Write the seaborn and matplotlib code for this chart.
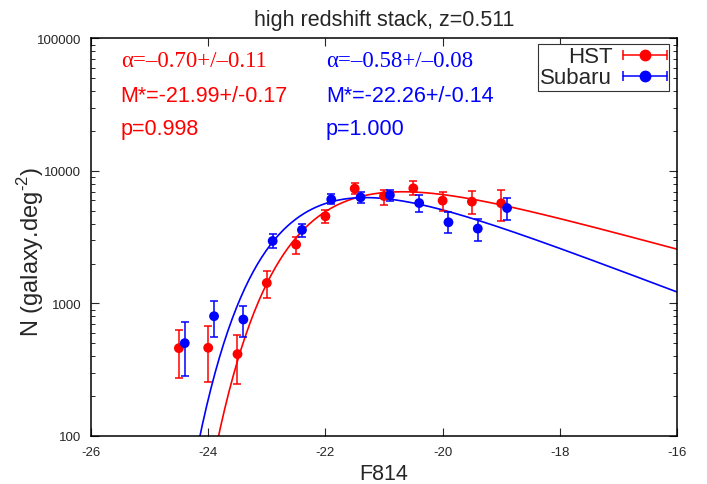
import numpy as np
import pandas as pd
import seaborn as sns
import matplotlib.pyplot as plt
from matplotlib.lines import Line2D
from matplotlib.legend_handler import HandlerLine2D

# Data
hst_mag = [-24.5, -24.0, -23.5, -23.0, -22.5, -22.0, -21.5, -21.0, -20.5, -20.0, -19.5, -19.0]
hst_n = [460, 463, 415, 1429, 2785, 4550, 7363, 6471, 7396, 5974, 5869, 5702]
hst_lo = [274, 254, 246, 1097, 2366, 4048, 6669, 5534, 6545, 4991, 4713, 4189]
hst_hi = [632, 671, 580, 1762, 3200, 5047, 8111, 7177, 8356, 6987, 7060, 7227]

sub_mag = [-24.4, -23.9, -23.4, -22.9, -22.4, -21.9, -21.4, -20.9, -20.4, -19.9, -19.4, -18.9]
sub_n = [502, 802, 757, 2963, 3589, 6108, 6323, 6577, 5726, 4101, 3673, 5253]
sub_lo = [285, 554, 557, 2641, 3178, 5593, 5705, 5890, 4934, 3404, 2986, 4269]
sub_hi = [722, 1047, 954, 3325, 3962, 6744, 6938, 7240, 6545, 4876, 4373, 6295]

# Schechter fit parameters (shown on the plot) and normalisations
hst_alpha, hst_mstar, hst_norm = -0.70, -21.99, 13500
sub_alpha, sub_mstar, sub_norm = -0.58, -22.26, 13800


def schechter(mag, alpha, mstar, norm):
    u = 10 ** (0.4 * (mstar - mag))
    return norm * u ** (alpha + 1) * np.exp(-u)


mag_grid = np.linspace(-25, -16, 500)
fits = pd.concat([
    pd.DataFrame({"mag": mag_grid, "N": schechter(mag_grid, hst_alpha, hst_mstar, hst_norm), "set": "HST"}),
    pd.DataFrame({"mag": mag_grid, "N": schechter(mag_grid, sub_alpha, sub_mstar, sub_norm), "set": "Subaru"}),
])
points = pd.concat([
    pd.DataFrame({"mag": hst_mag, "N": hst_n, "set": "HST"}),
    pd.DataFrame({"mag": sub_mag, "N": sub_n, "set": "Subaru"}),
])
colors = {"HST": "#ff0000", "Subaru": "#0000ff"}

sns.set_style("ticks")
plt.rcParams['font.family'] = ['Liberation Sans', 'DejaVu Sans']
plt.rcParams['mathtext.fontset'] = 'custom'
plt.rcParams['mathtext.rm'] = 'Liberation Sans'

fig, ax = plt.subplots(figsize=(7.07, 4.85), dpi=100)
fig.subplots_adjust(left=0.1287, right=0.9576, bottom=0.099, top=0.9186)

# error bars
for mag, n, lo, hi, key in [(hst_mag, hst_n, hst_lo, hst_hi, "HST"),
                            (sub_mag, sub_n, sub_lo, sub_hi, "Subaru")]:
    n = np.array(n)
    yerr = [n - np.array(lo), np.array(hi) - n]
    ax.errorbar(mag, n, yerr=yerr, fmt='none', ecolor=colors[key],
                elinewidth=1.1, capsize=2.8, capthick=1.1, zorder=3)

sns.lineplot(data=fits, x="mag", y="N", hue="set", palette=colors,
             lw=1.2, legend=False, ax=ax, zorder=2)
sns.scatterplot(data=points, x="mag", y="N", hue="set", palette=colors,
                s=50, edgecolor='none', legend=False, ax=ax, zorder=4)

ax.set_yscale('log')
ax.set_xlim(-26, -16)
ax.set_ylim(100, 100000)
ax.set_xticks([-26, -24, -22, -20, -18, -16])
ax.set_xticklabels(['-26', '-24', '-22', '-20', '-18', '-16'])
ax.set_yticks([100, 1000, 10000, 100000])
ax.set_yticklabels(['100', '1000', '10000', '100000'])
ax.tick_params(which='major', direction='in', top=True, right=True,
               length=6, width=0.8, labelsize=9.5, pad=7)
ax.tick_params(which='minor', direction='in', left=True, right=True,
               length=3, width=0.7)
ax.tick_params(axis='x', which='minor', bottom=False, top=False)
for sp in ax.spines.values():
    sp.set_visible(True)
    sp.set_linewidth(1.1)
    sp.set_color('black')

ax.set_xlabel("F814", fontsize=15.5, labelpad=4)
ax.set_ylabel(r"N (galaxy.deg$^{\text{-2}}$)", fontsize=17)
ax.yaxis.set_label_coords(-0.077, 0.465)
ax.set_title("high redshift stack, z=0.511", fontsize=15.5, pad=10)

# fit parameter annotations
ax.text(0.0507, 0.931, "α=–0.70+/–0.11", color='#ff0000', fontsize=16.5,
        family=['Liberation Serif', 'DejaVu Serif'], transform=ax.transAxes, va='baseline')
ax.text(0.0507, 0.842, "M*=-21.99+/-0.17", color='#ff0000', fontsize=15.5,
        transform=ax.transAxes, va='baseline')
ax.text(0.0507, 0.760, "p=0.998", color='#ff0000', fontsize=15.5,
        transform=ax.transAxes, va='baseline')
ax.text(0.401, 0.931, "α=–0.58+/–0.08", color='#0000ff', fontsize=16.5,
        family=['Liberation Serif', 'DejaVu Serif'], transform=ax.transAxes, va='baseline')
ax.text(0.401, 0.842, "M*=-22.26+/-0.14", color='#0000ff', fontsize=15.5,
        transform=ax.transAxes, va='baseline')
ax.text(0.401, 0.760, "p=1.000", color='#0000ff', fontsize=15.5,
        transform=ax.transAxes, va='baseline')

# gnuplot-like legend: label first, then errorbar glyph
hst_bar = Line2D([], [], color='#ff0000', lw=1.1, marker='|', ms=7, mew=1.1)
hst_dot = Line2D([], [], color='#ff0000', lw=0, marker='o', ms=7.5)
sub_bar = Line2D([], [], color='#0000ff', lw=1.1, marker='|', ms=7, mew=1.1)
sub_dot = Line2D([], [], color='#0000ff', lw=0, marker='o', ms=7.5)
hmap = {hst_bar: HandlerLine2D(numpoints=2, marker_pad=0),
        sub_bar: HandlerLine2D(numpoints=2, marker_pad=0),
        hst_dot: HandlerLine2D(numpoints=1),
        sub_dot: HandlerLine2D(numpoints=1)}
leg = ax.legend([(hst_bar, hst_dot), (sub_bar, sub_dot)], ["HST", "Subaru"],
                handler_map=hmap, loc='upper right', bbox_to_anchor=(0.987, 0.987),
                borderaxespad=0, fontsize=16, markerfirst=False, fancybox=False,
                framealpha=1, edgecolor='#333333', handlelength=1.95,
                handletextpad=0.5, borderpad=0.12, labelspacing=0.0)
leg.get_frame().set_linewidth(0.8)

plt.savefig("out.png", dpi=100)
plt.close()
